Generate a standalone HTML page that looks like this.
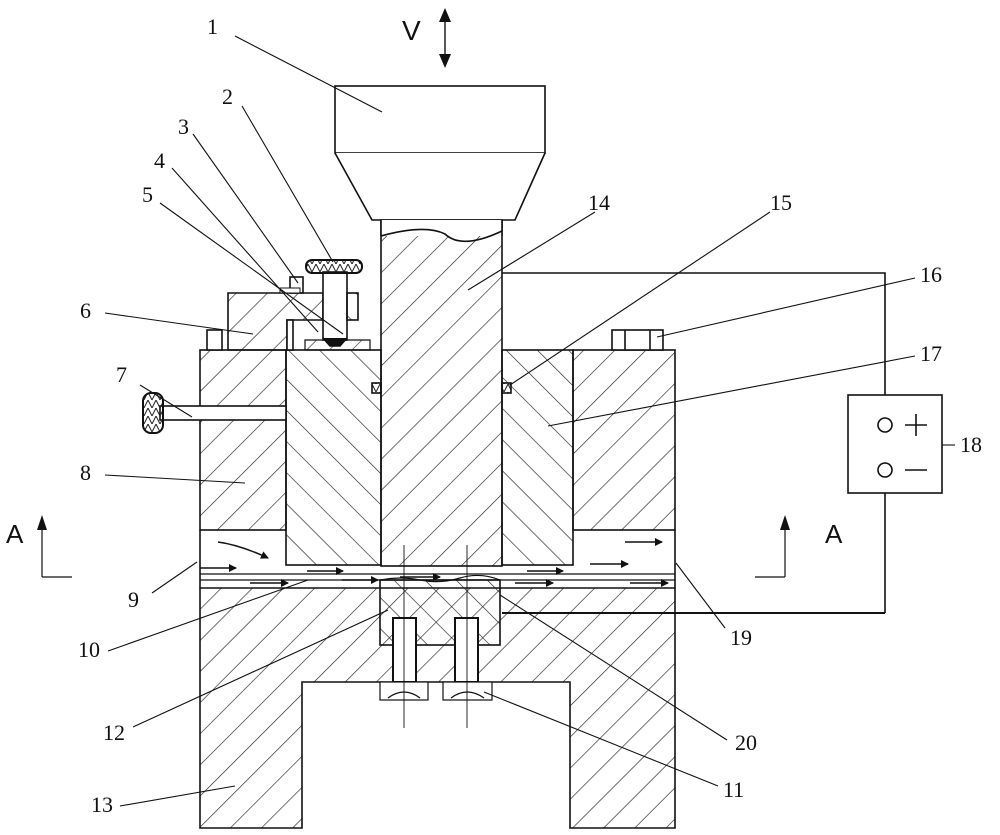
<!DOCTYPE html>
<html><head><meta charset="utf-8"><style>html,body{margin:0;padding:0;background:#fff}svg{display:block}text{font-family:"Liberation Serif",serif;font-size:22px;fill:#111}</style></head>
<body>
<svg width="1000" height="835" viewBox="0 0 1000 835" xmlns="http://www.w3.org/2000/svg">
<defs>
<pattern id="h1" width="22" height="22" patternUnits="userSpaceOnUse" patternTransform="rotate(45)"><line x1="0" y1="0" x2="0" y2="22" stroke="#222" stroke-width="1.3"/></pattern>
<pattern id="h2" width="22" height="22" patternUnits="userSpaceOnUse" patternTransform="rotate(-45)"><line x1="0" y1="0" x2="0" y2="22" stroke="#222" stroke-width="1.3"/></pattern>
<pattern id="h3" width="16" height="16" patternUnits="userSpaceOnUse" patternTransform="rotate(45)"><line x1="0" y1="0" x2="0" y2="16" stroke="#222" stroke-width="1.2"/></pattern>
<pattern id="kn" width="8" height="8" patternUnits="userSpaceOnUse"><path d="M0 8 L4 0 L8 8" fill="none" stroke="#222" stroke-width="1"/></pattern>
<marker id="ar" markerWidth="8" markerHeight="8" refX="7" refY="4" orient="auto" markerUnits="userSpaceOnUse"><path d="M0 0 L8 4 L0 8z" fill="#111"/></marker>
</defs>
<g stroke="#111" stroke-width="1.6" fill="none">
<rect x="335" y="86" width="210" height="67" fill="#fff"/>
<path d="M335 153 L372 220 L515 220 L545 153" fill="#fff"/>
<rect x="381" y="220" width="121" height="346" fill="url(#h1)"/>
<rect x="381" y="220" width="121" height="16" fill="#fff" stroke="none"/>
<path d="M381 220 V236 M502 220 V236"/>
<path d="M381 236 Q425 224 445 234 Q462 250 502 231" />
<rect x="200" y="350" width="86" height="180" fill="url(#h1)"/>
<rect x="573" y="350" width="102" height="180" fill="url(#h1)"/>
<rect x="286" y="350" width="95" height="215" fill="url(#h2)"/>
<rect x="502" y="350" width="71" height="215" fill="url(#h2)"/>
<path d="M200 530 V588 M675 530 V588"/>
<line x1="200" y1="574" x2="675" y2="574" stroke-width="1.2"/>
<line x1="200" y1="580" x2="675" y2="580" stroke-width="1.2"/>
<path d="M200 588 H675 V828 H570 V682 H302 V828 H200 Z" fill="url(#h1)"/>
<line x1="502" y1="613" x2="885" y2="613" stroke-width="2"/>
<rect x="380" y="580" width="120" height="65" fill="url(#h2)"/>
<path d="M380 580 Q400 576 420 580 T460 578 T500 580" stroke-width="1.2"/>
<rect x="393" y="618" width="23" height="64" fill="#fff" stroke-width="2"/>
<rect x="455" y="618" width="23" height="64" fill="#fff" stroke-width="2"/>
<rect x="380" y="682" width="48" height="18" fill="#fff" stroke-width="1.2"/>
<rect x="443" y="682" width="49" height="18" fill="#fff" stroke-width="1.2"/>
<path d="M388 698 Q404 686 420 698 M451 698 Q467 686 484 698" stroke-width="1.2"/>
<line x1="404" y1="545" x2="404" y2="728" stroke-width="0.9"/>
<line x1="467" y1="545" x2="467" y2="728" stroke-width="0.9"/>
<path d="M228 293 H323 V320 H287 V350 H228 Z" fill="url(#h1)"/>
<rect x="287" y="320" width="6" height="30" fill="#fff"/>
<rect x="290" y="277" width="13" height="16" fill="#fff"/>
<rect x="280" y="288" width="20" height="5" fill="#fff" stroke-width="1"/>
<rect x="323" y="272" width="24" height="68" fill="#fff"/>
<rect x="347" y="293" width="11" height="27" fill="url(#h2)"/>
<rect x="306" y="260" width="56" height="13" rx="6" fill="url(#kn)" stroke-width="2"/>
<path d="M305 340 H370 V350 H305 Z" fill="url(#h3)" stroke-width="1.2"/>
<path d="M323 338 L330 346 H340 L347 338" fill="#111"/>
<rect x="207" y="330" width="15" height="20" fill="#fff"/>
<rect x="612" y="330" width="51" height="20" fill="#fff"/>
<line x1="625" y1="330" x2="625" y2="350"/><line x1="650" y1="330" x2="650" y2="350"/>
<rect x="160" y="406" width="126" height="14" fill="#fff"/>
<rect x="143" y="393" width="20" height="40" rx="8" fill="url(#kn)" stroke-width="2"/>
<rect x="372" y="383" width="9" height="10" fill="url(#kn)"/>
<rect x="502" y="383" width="9" height="10" fill="url(#kn)"/>
<path d="M502 273 H885 V395"/>
<rect x="848" y="395" width="94" height="98" fill="#fff"/>
<path d="M885 493 V613"/>
<circle cx="885" cy="425" r="7" fill="#fff"/><circle cx="885" cy="470" r="7" fill="#fff"/>
<path d="M905 425 H927 M916 414 V436 M905 470 H927"/>
<path d="M42 577 V528 M42 577 H72 M785 577 V528 M785 577 H755" stroke-width="1.2"/>
</g>
<g fill="#111">
<path d="M42 515 L37 530 H47Z M785 515 L780 530 H790Z"/>
<path d="M445 8 L439 22 H451Z M445 68 L439 54 H451Z"/>
</g>
<line x1="445" y1="20" x2="445" y2="56" stroke="#111" stroke-width="1.4"/>
<g stroke="#111" stroke-width="1.5" marker-end="url(#ar)">
<path d="M218 542 Q240 545 268 558" fill="none"/>
<line x1="200" y1="568" x2="236" y2="568"/>
<line x1="250" y1="583" x2="288" y2="583"/>
<line x1="307" y1="571" x2="343" y2="571"/>
<line x1="342" y1="580" x2="378" y2="580"/>
<line x1="400" y1="577" x2="440" y2="577"/>
<line x1="515" y1="583" x2="553" y2="583"/>
<line x1="527" y1="571" x2="563" y2="571"/>
<line x1="590" y1="564" x2="628" y2="564"/>
<line x1="625" y1="542" x2="662" y2="542"/>
<line x1="630" y1="583" x2="668" y2="583"/>
</g>
<g stroke="#111" stroke-width="1.1">
<line x1="235" y1="36" x2="382" y2="112"/>
<line x1="242" y1="106" x2="333" y2="262"/>
<line x1="193" y1="134" x2="298" y2="283"/>
<line x1="172" y1="168" x2="318" y2="332"/>
<line x1="160" y1="203" x2="343" y2="334"/>
<line x1="105" y1="313" x2="253" y2="334"/>
<line x1="140" y1="385" x2="192" y2="417"/>
<line x1="105" y1="475" x2="245" y2="483"/>
<line x1="152" y1="593" x2="197" y2="562"/>
<line x1="108" y1="651" x2="308" y2="580"/>
<line x1="133" y1="727" x2="388" y2="610"/>
<line x1="120" y1="806" x2="235" y2="786"/>
<line x1="718" y1="786" x2="484" y2="692"/>
<line x1="727" y1="740" x2="500" y2="595"/>
<line x1="725" y1="628" x2="676" y2="563"/>
<line x1="955" y1="445" x2="942" y2="445"/>
<line x1="915" y1="356" x2="548" y2="426"/>
<line x1="915" y1="278" x2="657" y2="337"/>
<line x1="770" y1="212" x2="510" y2="385"/>
<line x1="595" y1="212" x2="468" y2="290"/>
</g>
<text x="207" y="34">1</text><text x="222" y="104">2</text><text x="178" y="134">3</text>
<text x="154" y="168">4</text><text x="142" y="202">5</text><text x="80" y="318">6</text>
<text x="116" y="382">7</text><text x="80" y="480">8</text><text x="128" y="607">9</text>
<text x="78" y="657">10</text><text x="103" y="740">12</text><text x="91" y="812">13</text>
<text x="723" y="797">11</text><text x="735" y="750">20</text><text x="730" y="645">19</text>
<text x="960" y="452">18</text><text x="920" y="361">17</text><text x="920" y="282">16</text>
<text x="770" y="210">15</text><text x="588" y="210">14</text>
<text x="6" y="543" style="font-family:'Liberation Sans',sans-serif;font-size:26px">A</text>
<text x="825" y="543" style="font-family:'Liberation Sans',sans-serif;font-size:26px">A</text>
<text x="402" y="40" style="font-family:'Liberation Sans',sans-serif;font-size:28px">V</text>
</svg>
</body></html>
